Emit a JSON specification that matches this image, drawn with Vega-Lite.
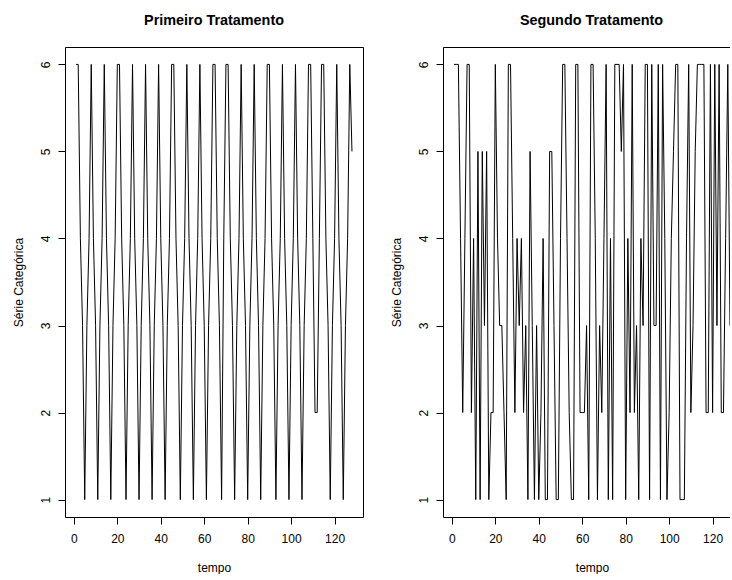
{
  "$schema": "https://vega.github.io/schema/vega-lite/v6.json",
  "background": "white",
  "padding": {"left": 12, "top": 12, "right": 0, "bottom": 0},
  "autosize": {"type": "pad"},
  "bounds": "flush",
  "spacing": 80,
  "datasets": {
    "trat1": [
      {"tempo":1,"serie":6},{"tempo":2,"serie":6},{"tempo":3,"serie":4},{"tempo":4,"serie":3},{"tempo":5,"serie":1},
      {"tempo":6,"serie":3},{"tempo":7,"serie":4},{"tempo":8,"serie":6},{"tempo":9,"serie":4},{"tempo":10,"serie":3},
      {"tempo":11,"serie":1},{"tempo":12,"serie":3},{"tempo":13,"serie":4},{"tempo":14,"serie":6},{"tempo":15,"serie":4},
      {"tempo":16,"serie":3},{"tempo":17,"serie":1},{"tempo":18,"serie":3},{"tempo":19,"serie":4},{"tempo":20,"serie":6},
      {"tempo":21,"serie":6},{"tempo":22,"serie":4},{"tempo":23,"serie":3},{"tempo":24,"serie":1},{"tempo":25,"serie":3},
      {"tempo":26,"serie":4},{"tempo":27,"serie":6},{"tempo":28,"serie":4},{"tempo":29,"serie":3},{"tempo":30,"serie":1},
      {"tempo":31,"serie":3},{"tempo":32,"serie":4},{"tempo":33,"serie":6},{"tempo":34,"serie":4},{"tempo":35,"serie":3},
      {"tempo":36,"serie":1},{"tempo":37,"serie":3},{"tempo":38,"serie":4},{"tempo":39,"serie":6},{"tempo":40,"serie":4},
      {"tempo":41,"serie":3},{"tempo":42,"serie":1},{"tempo":43,"serie":3},{"tempo":44,"serie":4},{"tempo":45,"serie":6},
      {"tempo":46,"serie":6},{"tempo":47,"serie":4},{"tempo":48,"serie":3},{"tempo":49,"serie":1},{"tempo":50,"serie":3},
      {"tempo":51,"serie":4},{"tempo":52,"serie":6},{"tempo":53,"serie":4},{"tempo":54,"serie":3},{"tempo":55,"serie":1},
      {"tempo":56,"serie":3},{"tempo":57,"serie":4},{"tempo":58,"serie":6},{"tempo":59,"serie":4},{"tempo":60,"serie":3},
      {"tempo":61,"serie":1},{"tempo":62,"serie":3},{"tempo":63,"serie":4},{"tempo":64,"serie":6},{"tempo":65,"serie":6},
      {"tempo":66,"serie":4},{"tempo":67,"serie":3},{"tempo":68,"serie":1},{"tempo":69,"serie":4},{"tempo":70,"serie":6},
      {"tempo":71,"serie":6},{"tempo":72,"serie":4},{"tempo":73,"serie":3},{"tempo":74,"serie":1},{"tempo":75,"serie":3},
      {"tempo":76,"serie":4},{"tempo":77,"serie":6},{"tempo":78,"serie":4},{"tempo":79,"serie":3},{"tempo":80,"serie":1},
      {"tempo":81,"serie":3},{"tempo":82,"serie":4},{"tempo":83,"serie":6},{"tempo":84,"serie":4},{"tempo":85,"serie":3},
      {"tempo":86,"serie":1},{"tempo":87,"serie":3},{"tempo":88,"serie":4},{"tempo":89,"serie":6},{"tempo":90,"serie":6},
      {"tempo":91,"serie":4},{"tempo":92,"serie":3},{"tempo":93,"serie":1},{"tempo":94,"serie":3},{"tempo":95,"serie":4},
      {"tempo":96,"serie":6},{"tempo":97,"serie":4},{"tempo":98,"serie":3},{"tempo":99,"serie":1},{"tempo":100,"serie":3},
      {"tempo":101,"serie":4},{"tempo":102,"serie":6},{"tempo":103,"serie":4},{"tempo":104,"serie":3},{"tempo":105,"serie":1},
      {"tempo":106,"serie":3},{"tempo":107,"serie":4},{"tempo":108,"serie":6},{"tempo":109,"serie":6},{"tempo":110,"serie":4},
      {"tempo":111,"serie":2},{"tempo":112,"serie":2},{"tempo":113,"serie":4},{"tempo":114,"serie":6},{"tempo":115,"serie":6},
      {"tempo":116,"serie":4},{"tempo":117,"serie":3},{"tempo":118,"serie":1},{"tempo":119,"serie":3},{"tempo":120,"serie":4},
      {"tempo":121,"serie":6},{"tempo":122,"serie":4},{"tempo":123,"serie":3},{"tempo":124,"serie":1},{"tempo":125,"serie":3},
      {"tempo":126,"serie":4},{"tempo":127,"serie":6},{"tempo":128,"serie":5}
    ],
    "trat2": [
      {"tempo":1,"serie":6},{"tempo":2,"serie":6},{"tempo":3,"serie":6},{"tempo":4,"serie":4},{"tempo":5,"serie":2},
      {"tempo":6,"serie":4},{"tempo":7,"serie":6},{"tempo":8,"serie":6},{"tempo":9,"serie":2},{"tempo":10,"serie":4},
      {"tempo":11,"serie":1},{"tempo":12,"serie":5},{"tempo":13,"serie":1},{"tempo":14,"serie":5},{"tempo":15,"serie":3},
      {"tempo":16,"serie":5},{"tempo":17,"serie":1},{"tempo":18,"serie":2},{"tempo":19,"serie":2},{"tempo":20,"serie":6},
      {"tempo":21,"serie":4},{"tempo":22,"serie":3},{"tempo":23,"serie":3},{"tempo":24,"serie":2},{"tempo":25,"serie":1},
      {"tempo":26,"serie":6},{"tempo":27,"serie":6},{"tempo":28,"serie":4},{"tempo":29,"serie":2},{"tempo":30,"serie":4},
      {"tempo":31,"serie":3},{"tempo":32,"serie":4},{"tempo":33,"serie":2},{"tempo":34,"serie":3},{"tempo":35,"serie":1},
      {"tempo":36,"serie":5},{"tempo":37,"serie":3},{"tempo":38,"serie":1},{"tempo":39,"serie":3},{"tempo":40,"serie":1},
      {"tempo":41,"serie":2},{"tempo":42,"serie":4},{"tempo":43,"serie":1},{"tempo":44,"serie":1},{"tempo":45,"serie":5},
      {"tempo":46,"serie":5},{"tempo":47,"serie":3},{"tempo":48,"serie":1},{"tempo":49,"serie":1},{"tempo":50,"serie":4},
      {"tempo":51,"serie":6},{"tempo":52,"serie":6},{"tempo":53,"serie":4},{"tempo":54,"serie":2},{"tempo":55,"serie":1},
      {"tempo":56,"serie":1},{"tempo":57,"serie":6},{"tempo":58,"serie":6},{"tempo":59,"serie":2},{"tempo":60,"serie":2},
      {"tempo":61,"serie":2},{"tempo":62,"serie":3},{"tempo":63,"serie":1},{"tempo":64,"serie":6},{"tempo":65,"serie":6},
      {"tempo":66,"serie":4},{"tempo":67,"serie":1},{"tempo":68,"serie":3},{"tempo":69,"serie":2},{"tempo":70,"serie":4},
      {"tempo":71,"serie":6},{"tempo":72,"serie":1},{"tempo":73,"serie":4},{"tempo":74,"serie":1},{"tempo":75,"serie":6},
      {"tempo":76,"serie":6},{"tempo":77,"serie":6},{"tempo":78,"serie":5},{"tempo":79,"serie":6},{"tempo":80,"serie":1},
      {"tempo":81,"serie":4},{"tempo":82,"serie":2},{"tempo":83,"serie":6},{"tempo":84,"serie":2},{"tempo":85,"serie":3},
      {"tempo":86,"serie":1},{"tempo":87,"serie":4},{"tempo":88,"serie":3},{"tempo":89,"serie":6},{"tempo":90,"serie":6},
      {"tempo":91,"serie":1},{"tempo":92,"serie":6},{"tempo":93,"serie":3},{"tempo":94,"serie":3},{"tempo":95,"serie":6},
      {"tempo":96,"serie":1},{"tempo":97,"serie":6},{"tempo":98,"serie":4},{"tempo":99,"serie":1},{"tempo":100,"serie":2},
      {"tempo":101,"serie":4},{"tempo":102,"serie":5},{"tempo":103,"serie":6},{"tempo":104,"serie":6},{"tempo":105,"serie":1},
      {"tempo":106,"serie":1},{"tempo":107,"serie":1},{"tempo":108,"serie":4},{"tempo":109,"serie":6},{"tempo":110,"serie":2},
      {"tempo":111,"serie":3},{"tempo":112,"serie":5},{"tempo":113,"serie":6},{"tempo":114,"serie":6},{"tempo":115,"serie":6},
      {"tempo":116,"serie":6},{"tempo":117,"serie":2},{"tempo":118,"serie":2},{"tempo":119,"serie":6},{"tempo":120,"serie":2},
      {"tempo":121,"serie":6},{"tempo":122,"serie":3},{"tempo":123,"serie":6},{"tempo":124,"serie":2},{"tempo":125,"serie":2},
      {"tempo":126,"serie":4},{"tempo":127,"serie":6},{"tempo":128,"serie":3}
    ]
  },
  "config": {
    "font": "Liberation Sans",
    "view": {"stroke": "black", "strokeWidth": 1},
    "axis": {
      "grid": false,
      "labelFont": "Liberation Sans",
      "titleFont": "Liberation Sans",
      "labelFontSize": 12,
      "labelColor": "black",
      "titleFontSize": 12,
      "titleFontWeight": "normal",
      "titleColor": "black",
      "tickColor": "black",
      "tickWidth": 1,
      "tickSize": 7,
      "domainColor": "black",
      "domainWidth": 1,
      "labelFlush": false,
      "labelOverlap": false
    },
    "title": {
      "font": "Liberation Sans",
      "fontSize": 14.4,
      "fontWeight": "bold",
      "color": "black",
      "baseline": "alphabetic",
      "offset": 19,
      "anchor": "middle"
    }
  },
  "hconcat": [
    {
      "title": "Primeiro Tratamento",
      "width": 298,
      "height": 470,
      "data": {"name": "trat1"},
      "mark": {"type": "line", "color": "black", "strokeWidth": 1, "clip": true},
      "encoding": {
        "x": {
          "field": "tempo", "type": "quantitative",
          "scale": {"domain": [-4.08, 133.08], "nice": false, "zero": false},
          "axis": {"values": [0, 20, 40, 60, 80, 100, 120], "format": "d", "domain": false, "labelPadding": 9, "minExtent": 28, "maxExtent": 28, "titlePadding": 17, "title": "tempo"}
        },
        "y": {
          "field": "serie", "type": "quantitative",
          "scale": {"domain": [0.8, 6.2], "nice": false, "zero": false},
          "axis": {"values": [1, 2, 3, 4, 5, 6], "format": "d", "domain": false, "labelAngle": -90, "labelAlign": "center", "labelBaseline": "bottom", "labelPadding": 6, "minExtent": 26, "maxExtent": 26, "titlePadding": 13.3, "title": "Série Categórica"}
        }
      }
    },
    {
      "title": {"text": "Segundo Tratamento", "dx": 5},
      "width": 287,
      "height": 470,
      "data": {"name": "trat2"},
      "view": {"stroke": null},
      "layer": [
        {
          "mark": {"type": "line", "color": "black", "strokeWidth": 1, "clip": true},
          "encoding": {
            "x": {
              "field": "tempo", "type": "quantitative",
              "scale": {"domain": [-4.08, 128.01], "nice": false, "zero": false},
              "axis": {"values": [0, 20, 40, 60, 80, 100, 120], "format": "d", "domain": true, "labelPadding": 9, "minExtent": 28, "maxExtent": 28, "titlePadding": 17, "title": "tempo", "titleX": 149}
            },
            "y": {
              "field": "serie", "type": "quantitative",
              "scale": {"domain": [0.8, 6.2], "nice": false, "zero": false},
              "axis": {"values": [1, 2, 3, 4, 5, 6], "format": "d", "domain": true, "labelAngle": -90, "labelAlign": "center", "labelBaseline": "bottom", "labelPadding": 6, "minExtent": 26, "maxExtent": 26, "titlePadding": 13.3, "title": "Série Categórica"}
            }
          }
        },
        {
          "mark": {"type": "line", "color": "black", "strokeOpacity": 0, "clip": true},
          "encoding": {
            "x": {
              "field": "tempo", "type": "quantitative",
              "axis": {"orient": "top", "labels": false, "ticks": false, "domain": true, "title": null, "minExtent": 0, "maxExtent": 0}
            },
            "y": {
              "field": "serie", "type": "quantitative",
              "scale": {"domain": [0.8, 6.2], "nice": false, "zero": false}
            }
          }
        }
      ],
      "resolve": {"axis": {"x": "independent"}}
    }
  ]
}
